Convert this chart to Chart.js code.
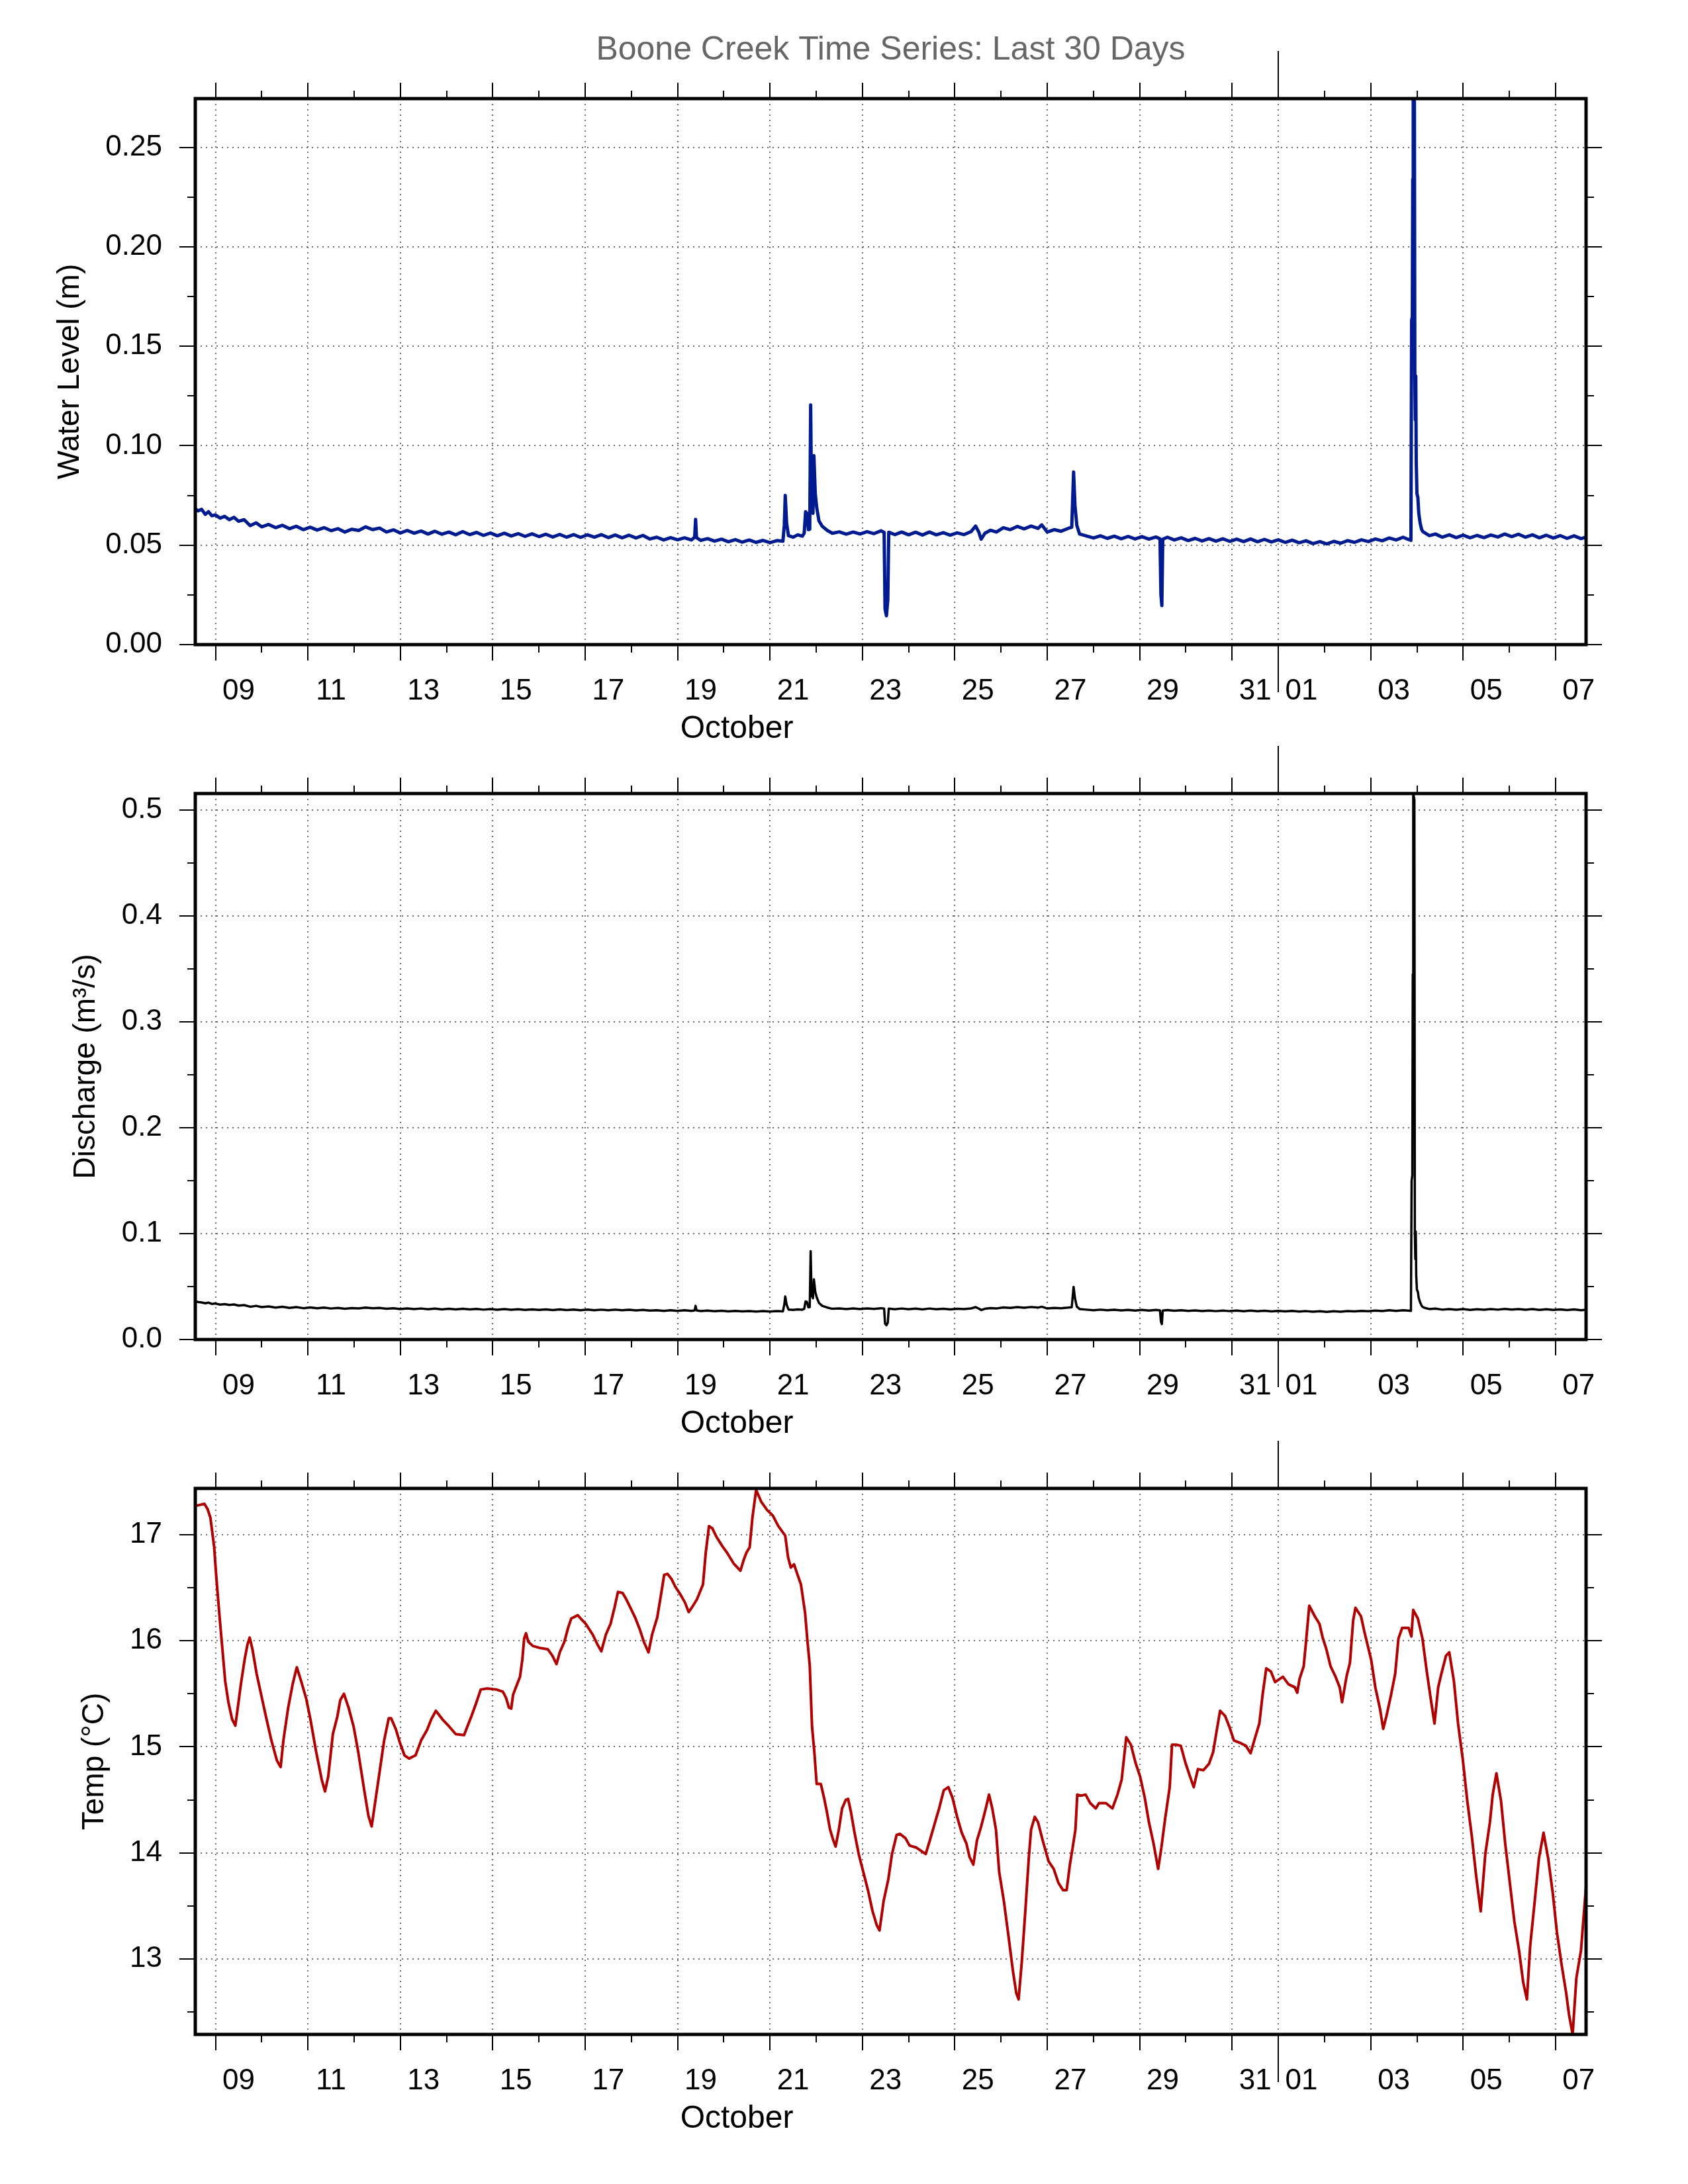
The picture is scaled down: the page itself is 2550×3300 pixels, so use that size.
<!DOCTYPE html>
<html>
<head>
<meta charset="utf-8">
<script src="https://cdn.jsdelivr.net/npm/chart.js@4.4.1/dist/chart.umd.min.js"></script>
<style>
html,body{margin:0;padding:0;background:#ffffff;}
body{width:2550px;height:3300px;position:relative;overflow:hidden;}
canvas{position:absolute;left:0;}
</style>
</head>
<body>
<canvas id="c1" width="2550" height="1134" style="top:0px"></canvas>
<canvas id="c2" width="2550" height="1074" style="top:1110px"></canvas>
<canvas id="c3" width="2550" height="1074" style="top:2160px"></canvas>
<script>
// ---------------- DATA (time in fractional "day of October"; Nov 1 00:00 = 32) ----------------
const X_MIN = 8.563;
const X_MAX = 38.66;

const majorDays = [9, 11, 13, 15, 17, 19, 21, 23, 25, 27, 29, 31, 32, 34, 36, 38];
const minorDays = [10, 12, 14, 16, 18, 20, 22, 24, 26, 28, 30, 33, 35, 37];
const monthStartDays = [32];
const dayLabelPos = [9.5, 11.5, 13.5, 15.5, 17.5, 19.5, 21.5, 23.5, 25.5, 27.5, 29.5, 31.5, 32.5, 34.5, 36.5, 38.5];
const dayLabels = ['09', '11', '13', '15', '17', '19', '21', '23', '25', '27', '29', '31', '01', '03', '05', '07'];
const monthLabels = ['October'];

const wlMajor = [0, 0.05, 0.10, 0.15, 0.20, 0.25];
const wlMinor = [0.025, 0.075, 0.125, 0.175, 0.225];
const wlTickLabels = ['0.00', '0.05', '0.10', '0.15', '0.20', '0.25'];
const qMajor = [0, 0.1, 0.2, 0.3, 0.4, 0.5];
const qMinor = [0.05, 0.15, 0.25, 0.35, 0.45];
const qTickLabels = ['0.0', '0.1', '0.2', '0.3', '0.4', '0.5'];
const tMajor = [13, 14, 15, 16, 17];
const tMinor = [12.5, 13.5, 14.5, 15.5, 16.5];
const tTickLabels = ['13', '14', '15', '16', '17'];

const flowDays = [
 8.56, 8.62, 8.70, 8.78, 8.85, 8.92, 9.00, 9.10, 9.20, 9.30, 9.40, 9.50, 9.62, 9.75, 9.88,
 10.00, 10.15, 10.30, 10.45, 10.60, 10.75, 10.90, 11.05, 11.20, 11.35, 11.50, 11.65, 11.80, 11.95,
 12.10, 12.25, 12.40, 12.55, 12.70, 12.85, 13.00, 13.15, 13.30, 13.45, 13.60, 13.75, 13.90,
 14.05, 14.20, 14.35, 14.50, 14.65, 14.80, 14.95, 15.10, 15.25, 15.40, 15.55, 15.70, 15.85,
 16.00, 16.15, 16.30, 16.45, 16.60, 16.75, 16.90, 17.05, 17.20, 17.35, 17.50, 17.65, 17.80, 17.95,
 18.10, 18.25, 18.40, 18.55, 18.70, 18.85, 19.00, 19.15, 19.30, 19.37, 19.39, 19.41, 19.50, 19.65, 19.80, 19.95,
 20.10, 20.25, 20.40, 20.55, 20.70, 20.85, 21.00, 21.15, 21.28, 21.31, 21.33, 21.36, 21.40, 21.50, 21.60, 21.70,
 21.74, 21.77, 21.80, 21.83, 21.86, 21.88, 21.90, 21.93, 21.95, 21.98, 22.01, 22.06, 22.13, 22.24, 22.35, 22.50,
 22.65, 22.80, 22.95, 23.10, 23.25, 23.40, 23.47, 23.49, 23.52, 23.55, 23.57, 23.70, 23.85,
 24.00, 24.15, 24.30, 24.45, 24.60, 24.75, 24.90, 25.05, 25.20, 25.35, 25.45, 25.52, 25.57, 25.65, 25.77, 25.90,
 26.05, 26.20, 26.35, 26.50, 26.65, 26.80, 26.88, 27.00, 27.15, 27.30, 27.45, 27.53, 27.57, 27.60, 27.64, 27.70, 27.85,
 28.00, 28.15, 28.30, 28.45, 28.60, 28.75, 28.90, 29.05, 29.20, 29.35, 29.44, 29.46, 29.48, 29.50, 29.60, 29.75, 29.90,
 30.05, 30.20, 30.35, 30.50, 30.65, 30.80, 30.95, 31.10, 31.25, 31.40, 31.55, 31.70, 31.85,
 32.00, 32.15, 32.30, 32.45, 32.60, 32.75, 32.90, 33.05, 33.20, 33.35, 33.50, 33.65, 33.80, 33.95,
 34.10, 34.25, 34.40, 34.55, 34.70, 34.80, 34.87, 34.885, 34.90, 34.91, 34.92, 34.945, 34.955, 34.965, 34.975, 34.985,
 35.00, 35.02, 35.04, 35.07, 35.10, 35.13, 35.20, 35.27, 35.40, 35.55, 35.70, 35.85,
 36.00, 36.15, 36.30, 36.45, 36.60, 36.75, 36.90, 37.05, 37.20, 37.35, 37.50, 37.65, 37.80, 37.95,
 38.10, 38.25, 38.40, 38.55, 38.66
];

const waterLevel = [
 0.0685, 0.0672, 0.0680, 0.0655, 0.0668, 0.0648, 0.0652, 0.0636, 0.0645, 0.0628, 0.0640, 0.0620, 0.0628, 0.0598, 0.0612,
 0.0592, 0.0604, 0.0588, 0.0600, 0.0583, 0.0595, 0.0578, 0.0590, 0.0576, 0.0588, 0.0573, 0.0583, 0.0566, 0.0580,
 0.0574, 0.0592, 0.0578, 0.0586, 0.0566, 0.0577, 0.0561, 0.0574, 0.0560, 0.0571, 0.0556, 0.0570, 0.0555,
 0.0566, 0.0552, 0.0568, 0.0553, 0.0564, 0.0549, 0.0561, 0.0547, 0.0560, 0.0546, 0.0558, 0.0544, 0.0557,
 0.0543, 0.0555, 0.0541, 0.0554, 0.0540, 0.0553, 0.0539, 0.0552, 0.0540, 0.0553, 0.0538, 0.0551, 0.0537, 0.0550,
 0.0536, 0.0549, 0.0531, 0.0540, 0.0526, 0.0538, 0.0527, 0.0537, 0.0526, 0.0540, 0.0630, 0.0538, 0.0524, 0.0533, 0.0520, 0.0530,
 0.0517, 0.0528, 0.0515, 0.0526, 0.0514, 0.0524, 0.0513, 0.0523, 0.0520, 0.0600, 0.0750, 0.0610, 0.0548, 0.0540, 0.0552, 0.0545,
 0.0560, 0.0668, 0.0660, 0.0578, 0.0580, 0.1205, 0.0700, 0.0660, 0.0950, 0.0760, 0.0690, 0.0622, 0.0595, 0.0574, 0.0560, 0.0567,
 0.0555, 0.0566, 0.0556, 0.0568, 0.0558, 0.0572, 0.0565, 0.0180, 0.0145, 0.0225, 0.0565, 0.0553, 0.0566,
 0.0552, 0.0565, 0.0551, 0.0566, 0.0552, 0.0563, 0.0550, 0.0562, 0.0553, 0.0568, 0.0596, 0.0565, 0.0530, 0.0560, 0.0575, 0.0566,
 0.0588, 0.0578, 0.0594, 0.0582, 0.0596, 0.0584, 0.0602, 0.0566, 0.0578, 0.0570, 0.0584, 0.0590, 0.0868, 0.0700, 0.0600, 0.0556, 0.0546,
 0.0536, 0.0547, 0.0534, 0.0545, 0.0532, 0.0544, 0.0531, 0.0543, 0.0530, 0.0541, 0.0532, 0.0250, 0.0196, 0.0530, 0.0540, 0.0526, 0.0537,
 0.0523, 0.0534, 0.0521, 0.0533, 0.0520, 0.0532, 0.0519, 0.0530, 0.0518, 0.0531, 0.0517, 0.0529, 0.0516,
 0.0527, 0.0514, 0.0525, 0.0512, 0.0522, 0.0508, 0.0518, 0.0506, 0.0519, 0.0510, 0.0523, 0.0514, 0.0527, 0.0518,
 0.0531, 0.0522, 0.0536, 0.0526, 0.0540, 0.0530, 0.0524, 0.1630, 0.1650, 0.2340, 0.2745, 0.2730, 0.1340, 0.1130, 0.1350, 0.0920,
 0.0760, 0.0740, 0.0660, 0.0610, 0.0580, 0.0568, 0.0558, 0.0548, 0.0556, 0.0540, 0.0552, 0.0538,
 0.0550, 0.0537, 0.0549, 0.0538, 0.0551, 0.0541, 0.0556, 0.0543, 0.0555, 0.0540, 0.0552, 0.0537, 0.0550, 0.0536,
 0.0548, 0.0534, 0.0547, 0.0533, 0.0540
];

const discharge = [
 0.0362, 0.0355, 0.0350, 0.0342, 0.0348, 0.0336, 0.0340, 0.0330, 0.0334, 0.0326, 0.0331, 0.0320, 0.0325, 0.0310, 0.0318,
 0.0306, 0.0312, 0.0302, 0.0309, 0.0299, 0.0306, 0.0296, 0.0303, 0.0295, 0.0301, 0.0293, 0.0299, 0.0290, 0.0297,
 0.0294, 0.0302, 0.0295, 0.0299, 0.0290, 0.0295, 0.0288, 0.0294, 0.0287, 0.0293, 0.0286, 0.0292, 0.0285,
 0.0290, 0.0284, 0.0291, 0.0284, 0.0289, 0.0282, 0.0288, 0.0281, 0.0287, 0.0281, 0.0286, 0.0280, 0.0285,
 0.0279, 0.0285, 0.0278, 0.0284, 0.0278, 0.0283, 0.0277, 0.0283, 0.0277, 0.0282, 0.0276, 0.0282, 0.0276, 0.0281,
 0.0275, 0.0280, 0.0273, 0.0277, 0.0271, 0.0276, 0.0271, 0.0276, 0.0270, 0.0275, 0.0318, 0.0275, 0.0269, 0.0273, 0.0267, 0.0272,
 0.0266, 0.0270, 0.0265, 0.0269, 0.0264, 0.0268, 0.0264, 0.0268, 0.0266, 0.0330, 0.0407, 0.0330, 0.0283, 0.0279, 0.0285, 0.0281,
 0.0290, 0.0360, 0.0355, 0.0305, 0.0306, 0.0835, 0.0420, 0.0390, 0.0568, 0.0450, 0.0400, 0.0345, 0.0318, 0.0302, 0.0290, 0.0294,
 0.0288, 0.0293, 0.0288, 0.0294, 0.0289, 0.0296, 0.0292, 0.0150, 0.0135, 0.0160, 0.0292, 0.0286, 0.0293,
 0.0286, 0.0292, 0.0285, 0.0293, 0.0286, 0.0291, 0.0285, 0.0291, 0.0287, 0.0294, 0.0306, 0.0292, 0.0278, 0.0290, 0.0297, 0.0293,
 0.0303, 0.0298, 0.0306, 0.0300, 0.0307, 0.0301, 0.0310, 0.0293, 0.0298, 0.0295, 0.0301, 0.0305, 0.0497, 0.0390, 0.0310, 0.0288, 0.0282,
 0.0277, 0.0282, 0.0276, 0.0281, 0.0275, 0.0280, 0.0274, 0.0280, 0.0274, 0.0279, 0.0275, 0.0170, 0.0146, 0.0274, 0.0278, 0.0272, 0.0277,
 0.0270, 0.0275, 0.0269, 0.0274, 0.0268, 0.0274, 0.0268, 0.0273, 0.0267, 0.0273, 0.0267, 0.0272, 0.0266,
 0.0271, 0.0265, 0.0270, 0.0264, 0.0268, 0.0262, 0.0267, 0.0261, 0.0267, 0.0263, 0.0269, 0.0265, 0.0271, 0.0267,
 0.0273, 0.0269, 0.0276, 0.0271, 0.0277, 0.0273, 0.0270, 0.1500, 0.1550, 0.3450, 0.5156, 0.5100, 0.1000, 0.0760, 0.1020, 0.0600,
 0.0470, 0.0450, 0.0390, 0.0350, 0.0320, 0.0305, 0.0295, 0.0288, 0.0292, 0.0282, 0.0288, 0.0281,
 0.0287, 0.0280, 0.0286, 0.0281, 0.0287, 0.0282, 0.0289, 0.0283, 0.0288, 0.0281, 0.0287, 0.0280, 0.0286, 0.0279,
 0.0285, 0.0278, 0.0284, 0.0277, 0.0281
];

const tempDays = [
 8.564, 8.66, 8.76, 8.83, 8.89, 8.97, 9.02, 9.09, 9.15, 9.21, 9.28, 9.36, 9.43, 9.48, 9.55, 9.63, 9.69, 9.74, 9.80, 9.89, 9.99,
 10.09, 10.21, 10.33, 10.41, 10.47, 10.57, 10.67, 10.76, 10.86, 10.96, 11.05, 11.18, 11.30, 11.37, 11.44, 11.54, 11.64, 11.70, 11.78, 11.88, 11.99,
 12.09, 12.22, 12.31, 12.38, 12.46, 12.56, 12.65, 12.75, 12.80, 12.90, 12.99, 13.09, 13.19, 13.33, 13.45, 13.58, 13.67, 13.77, 13.91,
 14.06, 14.20, 14.38, 14.45, 14.54, 14.64, 14.74, 14.88, 15.08, 15.22, 15.29, 15.35, 15.40, 15.44, 15.51, 15.59, 15.64, 15.68, 15.72, 15.77, 15.87,
 16.04, 16.19, 16.29, 16.38, 16.45, 16.55, 16.63, 16.70, 16.84, 16.90, 17.01, 17.16, 17.26, 17.35, 17.45, 17.55, 17.64, 17.71, 17.81, 17.89, 17.98,
 18.08, 18.18, 18.27, 18.37, 18.45, 18.56, 18.64, 18.71, 18.78, 18.87, 18.95, 19.07, 19.16, 19.24, 19.32, 19.42, 19.55, 19.61, 19.68, 19.75, 19.84, 19.97,
 20.07, 20.21, 20.36, 20.43, 20.49, 20.56, 20.62, 20.70, 20.81, 20.94, 21.06, 21.18, 21.33, 21.39, 21.45, 21.52, 21.59, 21.67, 21.76, 21.81, 21.86, 21.91, 21.96,
 22.01, 22.10, 22.17, 22.23, 22.30, 22.37, 22.42, 22.49, 22.56, 22.64, 22.69, 22.75, 22.83, 22.92,
 23.02, 23.12, 23.22, 23.31, 23.37, 23.46, 23.56, 23.64, 23.74, 23.81, 23.93,
 24.02, 24.17, 24.37, 24.46, 24.56, 24.66, 24.76, 24.86, 24.95,
 25.05, 25.15, 25.25, 25.32, 25.40, 25.48, 25.57, 25.67, 25.74, 25.81, 25.89, 25.96,
 26.06, 26.16, 26.26, 26.33, 26.38, 26.45, 26.53, 26.60, 26.65, 26.73, 26.80, 26.90,
 27.03, 27.14, 27.24, 27.34, 27.42, 27.49, 27.55, 27.61, 27.65, 27.73, 27.83, 27.93,
 28.05, 28.12, 28.27, 28.41, 28.52, 28.61, 28.66, 28.71, 28.81, 28.91,
 29.01, 29.11, 29.20, 29.30, 29.40, 29.47, 29.55, 29.65, 29.70, 29.79, 29.89, 29.99,
 30.09, 30.17, 30.26, 30.38, 30.50, 30.59, 30.67, 30.74, 30.85, 30.94,
 31.04, 31.16, 31.30, 31.40, 31.50, 31.59, 31.66, 31.74, 31.84, 31.93,
 32.03, 32.10, 32.22, 32.36, 32.41, 32.46, 32.55, 32.60, 32.67, 32.79, 32.89, 32.96,
 33.04, 33.13, 33.23, 33.33, 33.38, 33.48, 33.55, 33.62, 33.67, 33.79, 33.86,
 34.01, 34.10, 34.20, 34.27, 34.34, 34.44, 34.53, 34.60, 34.68, 34.82, 34.88, 34.92,
 35.02, 35.12, 35.21, 35.31, 35.38, 35.46, 35.53, 35.63, 35.70, 35.80, 35.89, 35.99,
 36.09, 36.19, 36.28, 36.38, 36.48, 36.58, 36.64, 36.72, 36.82, 36.91,
 37.01, 37.11, 37.21, 37.30, 37.38, 37.45, 37.55, 37.64, 37.74, 37.84, 37.94,
 38.03, 38.13, 38.23, 38.29, 38.37, 38.45, 38.55, 38.66
];

const temperature = [
 17.27, 17.28, 17.29, 17.24, 17.16, 16.89, 16.59, 16.22, 15.92, 15.62, 15.42, 15.26, 15.20, 15.36, 15.59, 15.82, 15.96, 16.03, 15.92, 15.69, 15.49,
 15.29, 15.06, 14.87, 14.81, 15.06, 15.36, 15.59, 15.75, 15.61, 15.46, 15.27, 14.95, 14.69, 14.58, 14.72, 15.12, 15.29, 15.44, 15.50, 15.37, 15.19,
 14.95, 14.59, 14.35, 14.25, 14.49, 14.79, 15.06, 15.27, 15.27, 15.17, 15.04, 14.92, 14.89, 14.92, 15.06, 15.16, 15.26, 15.34, 15.26,
 15.19, 15.12, 15.11, 15.19, 15.29, 15.41, 15.54, 15.55, 15.54, 15.52, 15.46, 15.37, 15.36, 15.49, 15.57, 15.66, 15.82, 16.02, 16.07, 15.99, 15.95,
 15.93, 15.92, 15.86, 15.78, 15.89, 15.99, 16.12, 16.21, 16.24, 16.21, 16.16, 16.06, 15.97, 15.90, 16.06, 16.16, 16.32, 16.46, 16.45, 16.39, 16.31,
 16.22, 16.11, 15.99, 15.89, 16.06, 16.22, 16.43, 16.62, 16.63, 16.58, 16.51, 16.43, 16.36, 16.27, 16.32, 16.39, 16.53, 16.83, 17.08, 17.06, 16.98, 16.89,
 16.83, 16.73, 16.66, 16.76, 16.83, 16.88, 17.16, 17.42, 17.31, 17.23, 17.18, 17.08, 16.99, 16.79, 16.69, 16.72, 16.63, 16.53, 16.26, 16.00, 15.77, 15.19, 14.95,
 14.65, 14.65, 14.52, 14.39, 14.22, 14.12, 14.06, 14.22, 14.42, 14.50, 14.51, 14.39, 14.19, 13.99,
 13.82, 13.65, 13.45, 13.32, 13.27, 13.55, 13.75, 13.99, 14.17, 14.18, 14.14,
 14.07, 14.05, 13.99, 14.12, 14.27, 14.42, 14.59, 14.62, 14.52,
 14.34, 14.19, 14.09, 13.96, 13.89, 14.12, 14.25, 14.42, 14.55, 14.42, 14.22, 13.82,
 13.55, 13.22, 12.88, 12.68, 12.62, 12.98, 13.48, 13.95, 14.22, 14.34, 14.29, 14.12,
 13.92, 13.85, 13.72, 13.65, 13.65, 13.89, 14.05, 14.22, 14.55, 14.54, 14.55, 14.47,
 14.42, 14.47, 14.47, 14.42, 14.55, 14.69, 14.89, 15.09, 15.02, 14.85,
 14.72, 14.52, 14.29, 14.09, 13.85, 14.05, 14.32, 14.62, 15.02, 15.02, 15.01, 14.85,
 14.72, 14.62, 14.79, 14.78, 14.84, 14.95, 15.16, 15.34, 15.29, 15.19,
 15.06, 15.04, 15.01, 14.94, 15.09, 15.22, 15.49, 15.74, 15.71, 15.61,
 15.64, 15.66, 15.59, 15.56, 15.51, 15.64, 15.76, 15.99, 16.33, 16.23, 16.16, 16.03,
 15.92, 15.76, 15.67, 15.56, 15.42, 15.67, 15.79, 16.19, 16.31, 16.23, 16.09,
 15.82, 15.56, 15.36, 15.17, 15.29, 15.49, 15.69, 16.02, 16.12, 16.12, 16.04, 16.29,
 16.21, 16.02, 15.72, 15.42, 15.22, 15.56, 15.69, 15.86, 15.89, 15.62, 15.22, 14.89,
 14.49, 14.15, 13.79, 13.45, 13.99, 14.29, 14.55, 14.75, 14.49, 14.09,
 13.72, 13.35, 13.08, 12.78, 12.62, 13.12, 13.55, 13.95, 14.19, 13.95, 13.62,
 13.25, 12.95, 12.68, 12.48, 12.29, 12.82, 13.08, 13.69
];

// ---------------- CHART SETUP ----------------
const FONT = "'Liberation Sans', Arial, Helvetica, sans-serif";
Chart.defaults.font.family = FONT;
Chart.defaults.color = '#000';
const GRID_COLOR = '#6e6e6e';
const GRID_DASH = [2, 6];
const inRange = v => v >= X_MIN && v <= X_MAX;

const framePlugin = {
  id: 'frame',
  afterDatasetsDraw(chart) {
    const a = chart.chartArea, ctx = chart.ctx;
    ctx.save();
    ctx.strokeStyle = '#000';
    ctx.lineWidth = 5;
    ctx.lineJoin = 'miter';
    ctx.strokeRect(a.left, a.top, a.right - a.left, a.bottom - a.top);
    ctx.restore();
  }
};

function markAxis(position, min, max, values, len, weight, size, onArea) {
  const horiz = position === 'top' || position === 'bottom';
  return {
    type: 'linear', position, min, max, weight, display: true,
    grid: {
      display: true, drawOnChartArea: !!onArea, drawTicks: true, tickLength: len,
      color: GRID_COLOR, lineWidth: 2,
      tickColor: '#000', tickWidth: 2, tickBorderDash: []
    },
    border: { display: false, dash: GRID_DASH },
    ticks: { display: false },
    afterBuildTicks: s => { s.ticks = values.filter(v => v >= min && v <= max).map(v => ({ value: v })); },
    afterFit: s => { if (horiz) s.height = size; else s.width = size; }
  };
}

function buildPanel(id, cfg) {
  const monthMid = monthStartDays.map(m => (X_MIN + m) / 2);
  const scales = {
    x: markAxis('bottom', X_MIN, X_MAX, majorDays, 24, 0, 0, true),
    xMinor: markAxis('bottom', X_MIN, X_MAX, minorDays, 12, 0, 0, false),
    xMonthB: markAxis('bottom', X_MIN, X_MAX, monthStartDays, 72, 0, 0, false),
    xLbl: {
      type: 'linear', position: 'bottom', min: X_MIN, max: X_MAX, weight: 1,
      grid: { display: false, drawTicks: false }, border: { display: false },
      ticks: {
        display: true, autoSkip: false, maxRotation: 0, minRotation: 0, padding: 44,
        font: { size: 44 }, color: '#000',
        callback: v => dayLabels[dayLabelPos.indexOf(v)]
      },
      afterBuildTicks: s => { s.ticks = dayLabelPos.filter(inRange).map(v => ({ value: v })); },
      afterFit: s => { s.height = 90; }
    },
    xMon: {
      type: 'linear', position: 'bottom', min: X_MIN, max: X_MAX, weight: 2,
      grid: { display: false, drawTicks: false }, border: { display: false },
      ticks: {
        display: true, autoSkip: false, maxRotation: 0, minRotation: 0, padding: 9,
        font: { size: 48 }, color: '#000',
        callback: v => monthLabels[monthMid.indexOf(v)]
      },
      afterBuildTicks: s => { s.ticks = monthMid.map(v => ({ value: v })); },
      afterFit: s => { s.height = 70; }
    },
    xTop: markAxis('top', X_MIN, X_MAX, majorDays, 24, 1, cfg.topBoxH, false),
    xTopMinor: markAxis('top', X_MIN, X_MAX, minorDays, 12, 0, 0, false),
    xTopMonth: markAxis('top', X_MIN, X_MAX, monthStartDays, 72, 0, 0, false),
    y: {
      type: 'linear', position: 'left', min: cfg.yMin, max: cfg.yMax, weight: 1,
      grid: {
        display: true, drawOnChartArea: true, drawTicks: true, tickLength: 24,
        color: GRID_COLOR, lineWidth: 2,
        tickColor: '#000', tickWidth: 2, tickBorderDash: []
      },
      border: { display: false, dash: GRID_DASH },
      ticks: { display: true, padding: 26, font: { size: 44 }, color: '#000',
               callback: (v, i) => cfg.yLabels[i] },
      afterBuildTicks: s => { s.ticks = cfg.yMajor.map(v => ({ value: v })); },
      title: { display: true, text: cfg.yTitle, font: { size: 46 }, color: '#000',
               padding: { top: cfg.yTitlePad, bottom: 0 } },
      afterFit: s => { s.width = 295; }
    },
    yMinor: markAxis('left', cfg.yMin, cfg.yMax, cfg.yMinorTicks, 12, 0, 0, false),
    yR: markAxis('right', cfg.yMin, cfg.yMax, cfg.yMajor, 24, 1, 100, false),
    yRMinor: markAxis('right', cfg.yMin, cfg.yMax, cfg.yMinorTicks, 12, 0, 0, false)
  };

  return new Chart(document.getElementById(id), {
    type: 'line',
    data: {
      datasets: [{
        data: cfg.xs.map((d, i) => ({ x: d, y: cfg.ys[i] })),
        xAxisID: 'x', yAxisID: 'y',
        borderColor: cfg.color, borderWidth: cfg.lineWidth,
        pointRadius: 0, tension: 0, fill: false,
        borderJoinStyle: 'round'
      }]
    },
    options: {
      responsive: false, animation: false, devicePixelRatio: 1, events: [],
      layout: { padding: { top: cfg.padTop, left: 0, right: 54, bottom: 0 } },
      plugins: {
        legend: { display: false }, tooltip: { enabled: false },
        title: cfg.title ? {
          display: true, text: cfg.title, color: '#666666', fullSize: false,
          font: { size: 50, weight: 'normal' }, padding: { top: 46, bottom: 0 }
        } : { display: false }
      },
      scales
    },
    plugins: [framePlugin]
  });
}

buildPanel('c1', {
  yMin: 0, yMax: 0.2745, yMajor: wlMajor, yMinorTicks: wlMinor, yLabels: wlTickLabels,
  yTitle: 'Water Level (m)', yTitlePad: 79,
  xs: flowDays, ys: waterLevel, color: '#001a8f', lineWidth: 5,
  title: 'Boone Creek Time Series: Last 30 Days', padTop: 0, topBoxH: 43
});
buildPanel('c2', {
  yMin: 0, yMax: 0.5156, yMajor: qMajor, yMinorTicks: qMinor, yLabels: qTickLabels,
  yTitle: 'Discharge (m\u00B3/s)', yTitlePad: 103,
  xs: flowDays, ys: discharge, color: '#000000', lineWidth: 3.5,
  title: null, padTop: 9, topBoxH: 80
});
buildPanel('c3', {
  yMin: 12.29, yMax: 17.435, yMajor: tMajor, yMinorTicks: tMinor, yLabels: tTickLabels,
  yTitle: 'Temp (\u00B0C)', yTitlePad: 116,
  xs: tempDays, ys: temperature, color: '#b00000', lineWidth: 4,
  title: null, padTop: 9, topBoxH: 80
});
</script>
</body>
</html>
